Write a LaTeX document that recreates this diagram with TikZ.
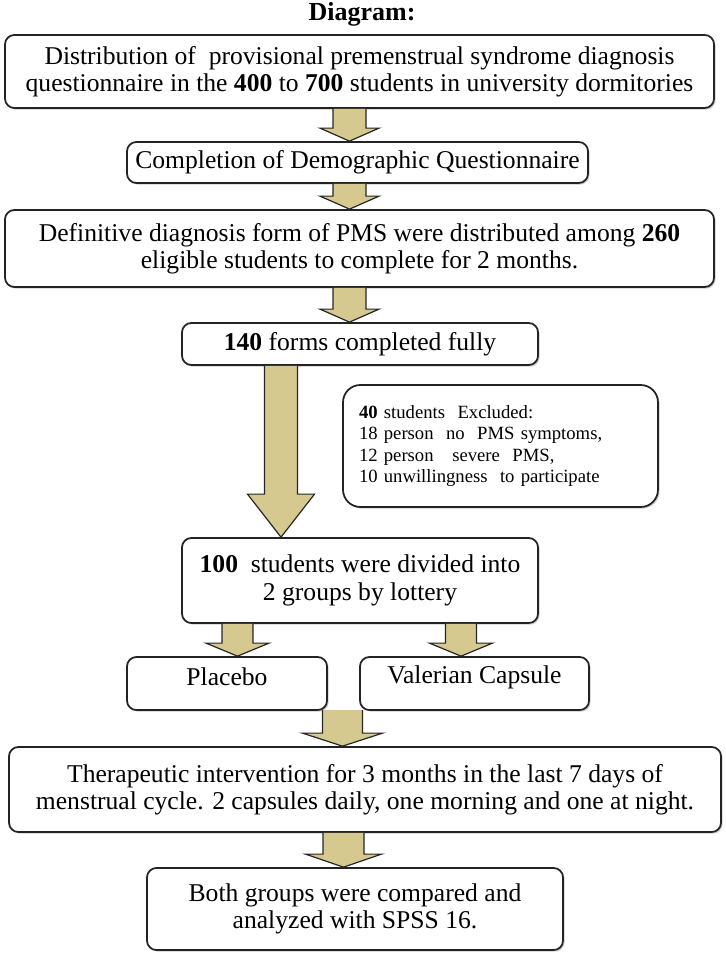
\documentclass[tikz,border=0pt]{standalone}
\usepackage{fontspec}
\setmainfont{Liberation Serif}
\usetikzlibrary{calc,shadows}
\definecolor{arrowtan}{RGB}{214,201,143}
\definecolor{boxline}{RGB}{35,35,35}
\tikzset{
  flowbox/.style={draw=boxline, line width=1.3pt, fill=white, rounded corners=7pt,
    inner sep=0pt, align=center, font=\fontsize{19.2}{20.6}\selectfont,
    drop shadow={shadow xshift=1.2pt, shadow yshift=-1.2pt, fill=black!40}},
  exclbox/.style={draw=boxline, line width=1.3pt, fill=white, rounded corners=13pt,
    inner xsep=12pt, inner ysep=0pt, align=left, font=\fontsize{14}{16.1}\selectfont,
    drop shadow={shadow xshift=1.2pt, shadow yshift=-1.2pt, fill=black!40}},
  arrowfillstyle/.style={fill=arrowtan},
  arrowlinestyle/.style={draw=black!85, line width=0.9pt, line join=miter},
  titlestyle/.style={font=\bfseries\fontsize{19.5}{22}\selectfont, inner sep=0pt}
}
% name, x1, y1, x2, y2, text
\newcommand\mkbox[6]{%
  \node[flowbox, minimum width={(#4-#2)*0.75pt}, minimum height={(#5-#3)*0.75pt}]
    (#1) at ({(#2+#4)/2},{(#3+#5)/2}) {#6};}
% from, to, center x, half shaft, half head, head length (px)
\newcommand\blockarr[6]{%
  \fill[arrowfillstyle] let \p1=(#1), \p2=(#2) in
    ({(#3-#4)*0.75pt},\y1) -- ({(#3-#4)*0.75pt},{\y2+#6*0.75pt}) --
    ({(#3-#5)*0.75pt},{\y2+#6*0.75pt}) -- ({#3*0.75pt},\y2) --
    ({(#3+#5)*0.75pt},{\y2+#6*0.75pt}) -- ({(#3+#4)*0.75pt},{\y2+#6*0.75pt}) --
    ({(#3+#4)*0.75pt},\y1) -- cycle;
  \draw[arrowlinestyle] let \p1=(#1), \p2=(#2) in
    ({(#3-#4)*0.75pt},\y1) -- ({(#3-#4)*0.75pt},{\y2+#6*0.75pt}) --
    ({(#3-#5)*0.75pt},{\y2+#6*0.75pt}) -- ({#3*0.75pt},\y2) --
    ({(#3+#5)*0.75pt},{\y2+#6*0.75pt}) -- ({(#3+#4)*0.75pt},{\y2+#6*0.75pt}) --
    ({(#3+#4)*0.75pt},\y1);}
\begin{document}
\begin{tikzpicture}[x=0.75pt,y=-0.75pt]
\useasboundingbox (0,0) rectangle (725,955);
\node[titlestyle] (title) at (362,14) {Diagram:};
\mkbox{b1}{5}{35}{714}{108}{Distribution of\ \ provisional premenstrual syndrome diagnosis\\questionnaire in the \textbf{400} to \textbf{700} students in university dormitories}
\mkbox{b2}{127}{142}{588}{183}{Completion of Demographic Questionnaire}
\mkbox{b3}{5}{210}{714}{287}{Definitive diagnosis form of PMS were distributed among \textbf{260}\\eligible students to complete for 2 months.}
\mkbox{b4}{182}{323}{538}{365}{\textbf{140} forms completed fully}
\node[exclbox, minimum width={315*0.75pt}, minimum height={122*0.75pt}, text width={(315-32)*0.75pt}]
  (ex) at (500.5,446) {\textbf{40} students\ \ Excluded:\\18 person\ \ no\ \ PMS symptoms,\\12 person\ \ \ severe\ \ PMS,\\10 unwillingness\ \ to participate};
\mkbox{b5}{182}{538}{538}{623}{\textbf{100}\ \ students were divided into\\2 groups by lottery}
\mkbox{plac}{127}{657}{327}{710}{\raisebox{4.9pt}[\height][\depth]{Placebo}}
\mkbox{val}{360}{657}{589}{710}{\raisebox{4.9pt}[\height][\depth]{Valerian Capsule}}
\mkbox{b6}{9}{747}{721}{832}{Therapeutic intervention for 3 months in the last 7 days of\\menstrual cycle. 2 capsules daily, one morning and one at night.}
\mkbox{b7}{147}{868}{563}{950}{Both groups were compared and\\analyzed with SPSS 16.}
\coordinate (pv) at (342.5,710);
\blockarr{b1.south}{b2.north}{349.5}{16.5}{29.5}{13}
\blockarr{b2.south}{b3.north}{349.5}{16.5}{29.5}{13}
\blockarr{b3.south}{b4.north}{349.5}{16.5}{29.5}{13}
\blockarr{b4.south}{b5.north}{281}{16.5}{33.5}{43}
\blockarr{b5.south}{plac.north}{237.5}{15.5}{31.5}{13}
\blockarr{b5.south}{val.north}{461}{15.5}{31.5}{13}
\blockarr{pv}{b6.north}{342.5}{20}{40}{13}
\blockarr{b6.south}{b7.north}{343.5}{20.5}{38}{13}
\end{tikzpicture}
\end{document}
